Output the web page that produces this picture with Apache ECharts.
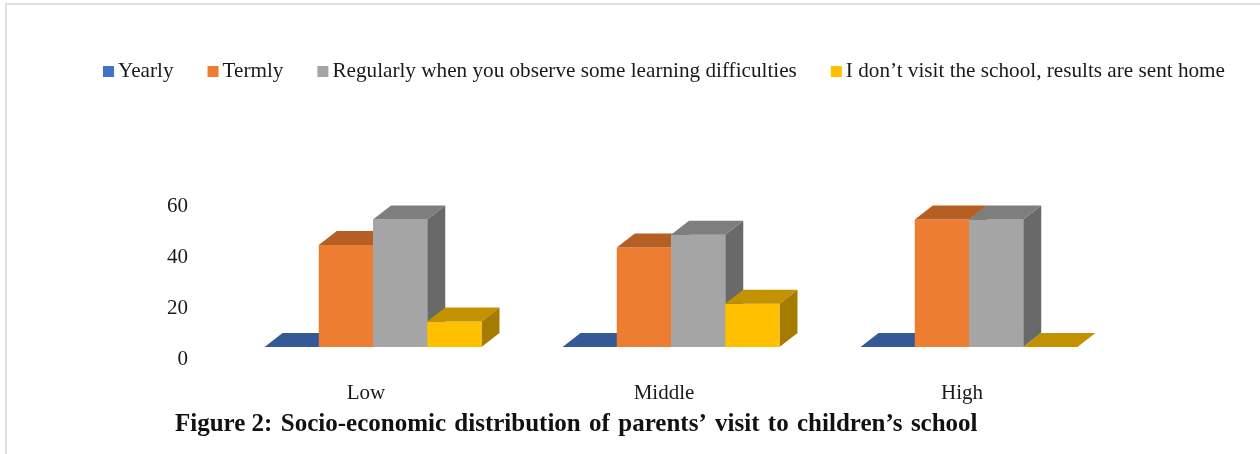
<!DOCTYPE html>
<html>
<head>
<meta charset="utf-8">
<style>html,body{margin:0;padding:0;background:#fff}#c{width:1260px;height:454px}</style>
<script src="https://cdn.jsdelivr.net/npm/echarts@6/dist/echarts.min.js"></script>
</head>
<body>
<div id="c"></div>
<script>
const categories = ['Low', 'Middle', 'High'];
const yearly = [0, 0, 0];
const termly = [40, 39, 50];
const regularly = [50, 44, 50];
const noVisit = [10, 17, 0];
const seriesNames = ['Yearly', 'Termly', 'Regularly when you observe some learning difficulties', 'I don’t visit the school, results are sent home'];
const titleText = 'Figure 2:\u200A Socio-economic\u200A distribution\u200A of\u200A parents’\u200A visit\u200A to\u200A children’s\u200A school';

const palette = [
  {front: '#4472C4', top: '#335A97', side: '#2A4A80'},
  {front: '#ED7D31', top: '#B55F25', side: '#8E4A1C'},
  {front: '#A5A5A5', top: '#7E7E7E', side: '#696969'},
  {front: '#FFC000', top: '#C29200', side: '#A57C00'}
];
const DX = 18, DY = 14, BAR_RATIO = 0.182;

function bar3d(si) {
  return function (params, api) {
    const cat = api.value(0), val = api.value(1);
    const band = api.size([1, 0])[0];
    const w = band * BAR_RATIO;
    const c = api.coord([cat, val]);
    const b = api.coord([cat, 0]);
    const l = c[0] + (si - 2) * w, r = l + w, t = c[1], y0 = b[1];
    const col = palette[si];
    const kids = [];
    if (y0 - t > 0.5) {
      kids.push({type: 'polygon', shape: {points: [[r, t], [r + DX, t - DY], [r + DX, y0 - DY], [r, y0]]}, style: {fill: col.side}});
      kids.push({type: 'rect', shape: {x: l, y: t, width: w, height: y0 - t}, style: {fill: col.front}});
    }
    kids.push({type: 'polygon', shape: {points: [[l, t], [l + DX, t - DY], [r + DX, t - DY], [r, t]]}, style: {fill: col.top}});
    return {type: 'group', children: kids};
  };
}
const values = [yearly, termly, regularly, noVisit];
const chart = echarts.init(document.getElementById('c'), null, {renderer: 'canvas', width: 1260, height: 454});
chart.setOption({
  animation: false,
  backgroundColor: '#fff',
  textStyle: {fontFamily: '"Liberation Serif"'},
  graphic: [{type: 'rect', z: -1, shape: {x: 6, y: 4, width: 1300, height: 500}, style: {fill: 'none', stroke: '#E0E0E0', lineWidth: 2}}],
  title: {text: titleText, left: 175, top: 412, padding: 0, textStyle: {fontFamily: '"Liberation Serif"', fontSize: 25, fontWeight: 'bold', color: '#111'}},
  legend: {
    left: 103, top: 61, padding: 0, icon: 'rect', itemWidth: 11, itemHeight: 11, itemGap: 34,
    data: seriesNames, selectedMode: false,
    textStyle: {fontFamily: '"Liberation Serif"', fontSize: 21.2, color: '#1a1a1a', padding: [4, 0, 0, -1]}
  },
  grid: {left: 224, width: 894, top: 194, height: 153},
  xAxis: {
    type: 'category', data: categories,
    axisLine: {show: false}, axisTick: {show: false}, splitLine: {show: false},
    axisLabel: {fontSize: 21, color: '#1a1a1a', fontFamily: '"Liberation Serif"', margin: 36, padding: [0, 14, 0, 0]}
  },
  yAxis: {
    type: 'value', min: 0, max: 60, interval: 20,
    axisLine: {show: false}, axisTick: {show: false}, splitLine: {show: false},
    axisLabel: {fontSize: 21, color: '#1a1a1a', fontFamily: '"Liberation Serif"', margin: 36, verticalAlign: 'top', lineHeight: 24}
  },
  series: seriesNames.map((name, si) => ({
    name, type: 'custom', silent: true,
    itemStyle: {color: palette[si].front},
    encode: {x: 0, y: 1},
    data: categories.map((_, i) => [i, values[si][i]]),
    renderItem: bar3d(si)
  }))
});
</script>
</body>
</html>
